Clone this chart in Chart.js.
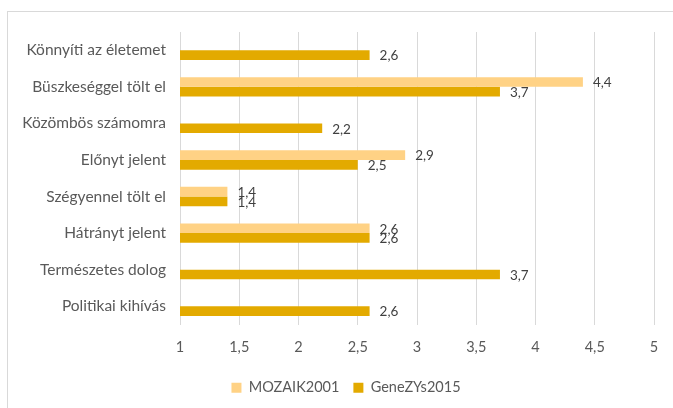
<!DOCTYPE html>
<html><head><meta charset="utf-8">
<script src="https://cdn.jsdelivr.net/npm/chart.js@4"></script>
<style>
html,body{margin:0;padding:0;background:#fff;overflow:hidden}
#wrap{position:absolute;left:0;top:0;width:673px;height:408px}
#frame{position:absolute;left:7px;top:11px;width:700px;height:420px;border:1px solid #d9d9d9;box-sizing:border-box}
canvas{position:absolute;left:0;top:0}
</style></head>
<body>
<div id="wrap"><div id="frame"></div><canvas id="c" width="673" height="408"></canvas></div>
<script>
const categories = ["Könnyíti az életemet","Büszkeséggel tölt el","Közömbös számomra","Előnyt jelent","Szégyennel tölt el","Hátrányt jelent","Természetes dolog","Politikai kihívás"];
const mozaik2001 = [null, 4.4, null, 2.9, 1.4, 2.6, null, null];
const genezys2015 = [2.6, 3.7, 2.2, 2.5, 1.4, 2.6, 3.7, 2.6];
const seriesNames = ["MOZAIK2001","GeneZYs2015"];
const FONT = "Lato, 'Liberation Sans', sans-serif";

const labelPlugin = {
  id:'vals',
  afterLayout(chart){
    if(chart.legend){ chart.legend.left += 19; chart.legend.right += 19; }
  },
  afterDatasetsDraw(chart){
    const ctx = chart.ctx;
    ctx.save();
    ctx.font = "13.5px " + FONT;
    ctx.fillStyle = "#404040";
    ctx.textBaseline = "middle";
    ctx.textAlign = "left";
    chart.data.datasets.forEach((ds,i)=>{
      const meta = chart.getDatasetMeta(i);
      meta.data.forEach((el,j)=>{
        const v = ds.data[j];
        if(v===null||v===undefined) return;
        ctx.fillText(String(v).replace('.',','), el.x+10, el.y+1);
      });
    });
    ctx.restore();
  }
};

new Chart(document.getElementById('c'),{
  type:'bar',
  data:{
    labels:categories,
    datasets:[
      {label:seriesNames[0],data:mozaik2001,backgroundColor:'#FFD285',borderWidth:0,categoryPercentage:0.53,barPercentage:1},
      {label:seriesNames[1],data:genezys2015,backgroundColor:'#E3AA00',borderWidth:0,categoryPercentage:0.53,barPercentage:1}
    ]
  },
  options:{
    indexAxis:'y',
    responsive:false,
    animation:false,
    layout:{padding:{top:32,right:19,left:0,bottom:3}},
    scales:{
      x:{min:1,max:5,
        ticks:{stepSize:0.5,color:'#595959',font:{family:FONT,size:14.5},padding:14,
          callback:(v)=>String(v).replace('.',',')},
        grid:{color:'#d9d9d9',drawTicks:false},
        border:{display:false},
        afterFit:(s)=>{s.height=42;}
      },
      y:{
        ticks:{color:'#595959',font:{family:FONT,size:15.5},padding:14},
        grid:{display:false,drawTicks:false},
        border:{display:false},
        afterFit:(s)=>{s.width=180;}
      }
    },
    plugins:{
      legend:{position:'bottom',
        labels:{boxWidth:10,boxHeight:10,color:'#595959',font:{family:FONT,size:14.5},padding:14}},
      tooltip:{enabled:false}
    }
  },
  plugins:[labelPlugin]
});
</script>
</body></html>
